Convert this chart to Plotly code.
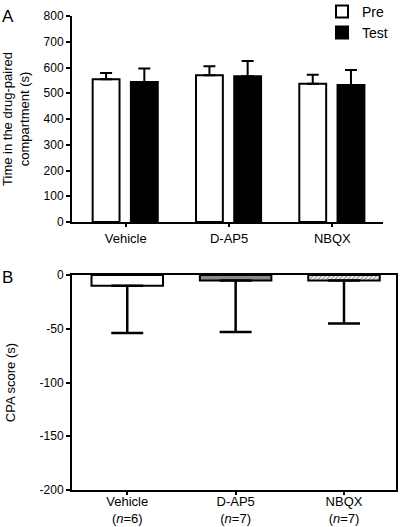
import plotly.graph_objects as go

groups = ["Vehicle", "D-AP5", "NBQX"]
n_animals = [6, 7, 7]
pre_mean = [554, 570, 537]
pre_sem = [25, 35, 35]
test_mean = [544, 566, 532]
test_sem = [52, 59, 58]
cpa_mean = [-10, -5, -5]
cpa_sem = [44, 48, 40]
a_ticks = [0, 100, 200, 300, 400, 500, 600, 700, 800]
b_ticks = [0, -50, -100, -150, -200]

FONT = "Liberation Sans, Arial, sans-serif"
BLACK = "#000000"

fig = go.Figure()

# Panel A
fig.add_trace(go.Bar(
    x=groups, y=pre_mean, name="Pre", xaxis="x", yaxis="y", legendgroup="pre",
    width=0.26, offset=-0.32,
    marker=dict(color="white", line=dict(color=BLACK, width=2)),
    error_y=dict(type="data", symmetric=False, array=pre_sem, arrayminus=[0] * 3,
                 color=BLACK, thickness=2, width=6),
))
fig.add_trace(go.Bar(
    x=groups, y=test_mean, name="Test", xaxis="x", yaxis="y", legendgroup="test",
    width=0.26, offset=0.05,
    marker=dict(color=BLACK, line=dict(color=BLACK, width=2)),
    error_y=dict(type="data", symmetric=False, array=test_sem, arrayminus=[0] * 3,
                 color=BLACK, thickness=2, width=6),
))

# Panel B
fig.add_trace(go.Bar(
    x=groups, y=cpa_mean, xaxis="x2", yaxis="y2", showlegend=False,
    width=0.66,
    marker=dict(
        color=["white", "#8a8a8a", "white"],
        line=dict(color=BLACK, width=2),
        pattern=dict(shape=["", "", "/"], fgcolor="#6e6e6e", bgcolor="white",
                     size=3, solidity=0.5),
    ),
    error_y=dict(type="data", symmetric=False, array=[0] * 3, arrayminus=cpa_sem,
                 color=BLACK, thickness=2.5, width=16),
))

b_ticktext = [f"{g}<br>(<i>n</i>={k})" for g, k in zip(groups, n_animals)]

fig.update_layout(
    width=400, height=527,
    margin=dict(l=0, r=0, t=0, b=0, autoexpand=False),
    paper_bgcolor="white", plot_bgcolor="white",
    font=dict(family=FONT, size=13, color=BLACK),
    barmode="overlay",
    xaxis=dict(domain=[0.18, 0.9575], range=[-0.52, 2.49], type="category",
               showline=True, linecolor=BLACK, linewidth=2, ticks="outside",
               ticklen=3, tickwidth=1.5, tickcolor=BLACK, showgrid=False,
               anchor="y", tickfont=dict(size=13)),
    yaxis=dict(domain=[0.5787, 0.9696], range=[0, 800],
               tickvals=a_ticks, ticktext=[str(v) for v in a_ticks],
               showline=True, linecolor=BLACK, linewidth=2, ticks="outside",
               ticklen=4, tickwidth=1.5, tickcolor=BLACK, showgrid=False,
               zeroline=False, anchor="x", tickfont=dict(size=12),
               title=dict(text="Time in the drug-paired<br>compartment (s)",
                          font=dict(size=13), standoff=12)),
    xaxis2=dict(domain=[0.18, 0.99], range=[-0.51, 2.48], type="category",
                showline=True, linecolor=BLACK, linewidth=2, mirror=True,
                ticks="outside", ticklen=3, tickwidth=1.5, tickcolor=BLACK,
                showgrid=False, anchor="y2", tickvals=groups, ticktext=b_ticktext,
                tickfont=dict(size=13), ticklabelstandoff=-5),
    yaxis2=dict(domain=[0.0702, 0.478], range=[-200, 0],
                tickvals=b_ticks, ticktext=[str(v) for v in b_ticks],
                showline=True, linecolor=BLACK, linewidth=2, mirror=True,
                ticks="outside", ticklen=4, tickwidth=1.5, tickcolor=BLACK,
                showgrid=False, zeroline=False, anchor="x2", tickfont=dict(size=12),
                title=dict(text="CPA score (s)", font=dict(size=13), standoff=21)),
    legend=dict(x=0.805, y=1.008, xanchor="left", yanchor="top",
                bgcolor="rgba(0,0,0,0)", font=dict(size=14),
                tracegroupgap=0, itemwidth=30),
    annotations=[
        dict(text="A", x=0.0, y=1.0, xref="paper", yref="paper", xanchor="left",
             yanchor="top", showarrow=False, font=dict(size=17), xshift=0, yshift=-5),
        dict(text="B", x=0.0, y=0.5, xref="paper", yref="paper", xanchor="left",
             yanchor="top", showarrow=False, font=dict(size=17), xshift=0, yshift=-2),
    ],
)

fig.write_html(
    "out.html",
    config={"displayModeBar": False},
    post_script="document.body.style.margin='0';document.body.style.overflow='hidden';",
)
